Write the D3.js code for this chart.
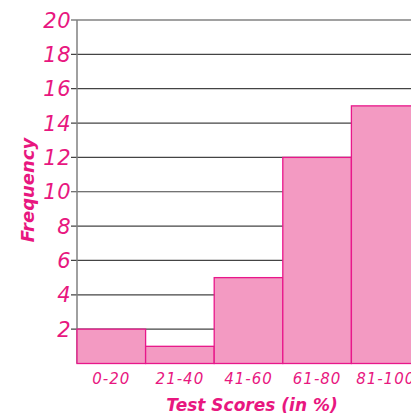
<!DOCTYPE html>
<html>
<head>
<meta charset="utf-8">
<script src="https://cdn.jsdelivr.net/npm/d3@7"></script>
<style>
  body { margin: 0; background: #fff; }
  text { font-family: "DejaVu Sans", sans-serif; font-style: italic; fill: #e8177f; }
</style>
</head>
<body>
<svg id="chart" width="411" height="416"></svg>
<script>
const categories = ['0-20', '21-40', '41-60', '61-80', '81-100']
const frequency = [2, 1, 5, 12, 15]
const yTicks = [2, 4, 6, 8, 10, 12, 14, 16, 18, 20]

const svg = d3.select('#chart')
const plotLeft = 77, plotTop = 20, plotBottom = 363.5, barW = 68.6

/* x 轴按类别，超出画布右边也照样画 */
const x = d3.scaleBand()
    .domain(categories)
    .range([plotLeft, plotLeft + barW * categories.length])
    .padding(0)

const y = d3.scaleLinear()
    .domain([0, 20])
    .range([plotBottom, plotTop])

/* 网格线 */
svg.append('g')
    .selectAll('line')
    .data(yTicks)
    .join('line')
    .attr('x1', plotLeft - 6)
    .attr('x2', 411)
    .attr('y1', d => y(d))
    .attr('y2', d => y(d))
    .attr('stroke', '#444')
    .attr('stroke-width', 1.2)

/* y 轴 */
svg.append('line')
    .attr('x1', plotLeft).attr('x2', plotLeft)
    .attr('y1', y(20)).attr('y2', plotBottom)
    .attr('stroke', '#808080')
    .attr('stroke-width', 1.5)

svg.append('g')
    .selectAll('text')
    .data(yTicks)
    .join('text')
    .attr('x', plotLeft - 6)
    .attr('y', d => y(d))
    .attr('dy', '0.36em')
    .attr('text-anchor', 'end')
    .style('font-size', '21px')
    .style('letter-spacing', '0.5px')
    .text(d => d)

/* 柱子 */
svg.append('g')
    .selectAll('rect')
    .data(frequency)
    .join('rect')
    .attr('x', (d, i) => x(categories[i]))
    .attr('y', d => y(d))
    .attr('width', x.bandwidth())
    .attr('height', d => plotBottom - y(d))
    .attr('fill', '#f39ac2')
    .attr('stroke', '#e8178a')
    .attr('stroke-width', 1.3)

/* x 标签 */
svg.append('g')
    .selectAll('text')
    .data(categories)
    .join('text')
    .attr('x', d => x(d) + x.bandwidth() / 2)
    .attr('y', 384)
    .attr('text-anchor', 'middle')
    .style('font-size', '15px')
    .style('letter-spacing', '1px')
    .text(d => d)

/* 轴标题 */
svg.append('text')
    .attr('x', 252)
    .attr('y', 411)
    .attr('text-anchor', 'middle')
    .style('font-size', '17px')
    .style('font-weight', 'bold')
    .text('Test Scores (in %)')

svg.append('text')
    .attr('transform', 'translate(34,190) rotate(-90)')
    .attr('text-anchor', 'middle')
    .style('font-size', '18px')
    .style('font-weight', 'bold')
    .text('Frequency')
</script>
</body>
</html>
